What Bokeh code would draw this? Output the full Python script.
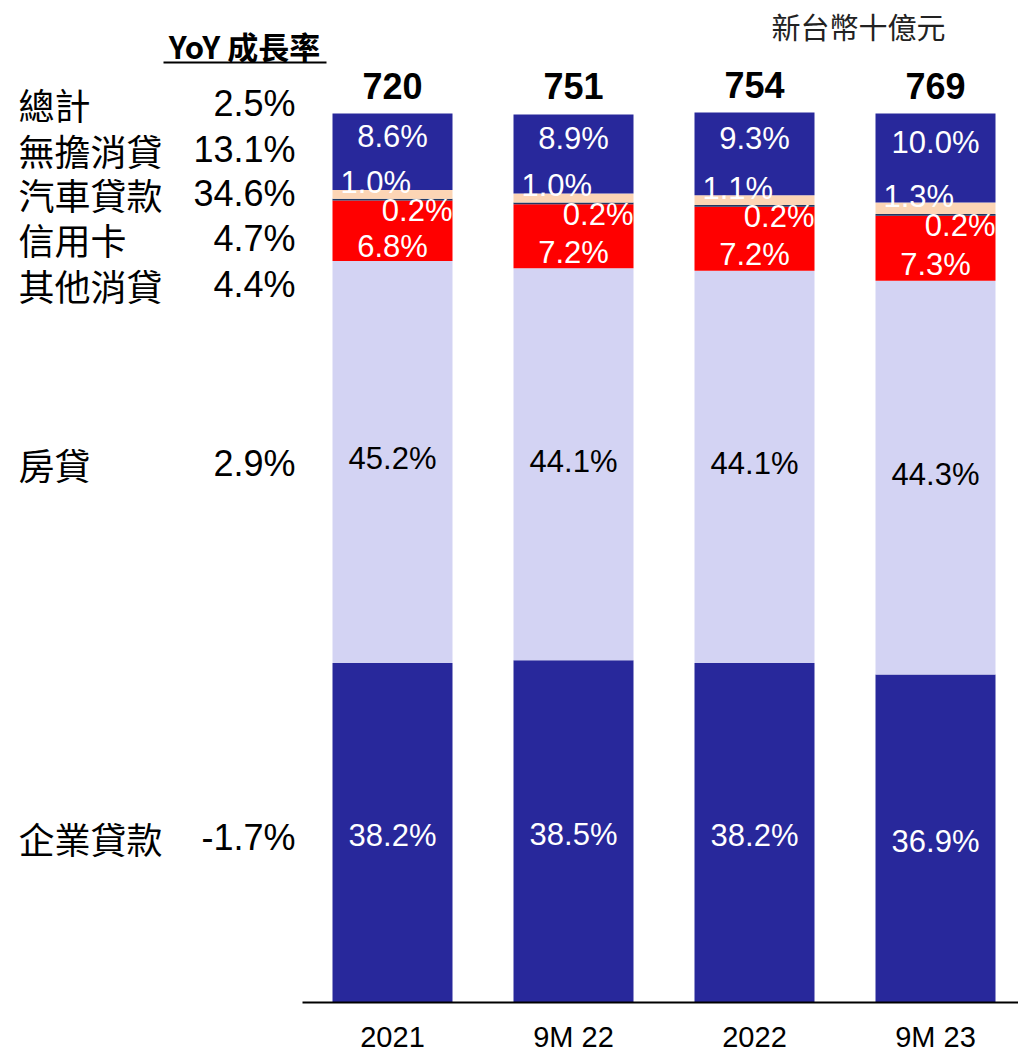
from bokeh.plotting import figure
from bokeh.models import ColumnDataSource, Range1d
from bokeh.core.properties import value
from bokeh.embed import file_html
from bokeh.resources import INLINE

# ---- data ----
categories = ["2021", "9M 22", "2022", "9M 23"]
totals = [720, 751, 754, 769]
corporate = [38.2, 38.5, 38.2, 36.9]        # 企業貸款
mortgage = [45.2, 44.1, 44.1, 44.3]         # 房貸
other_consumer = [6.8, 7.2, 7.2, 7.3]       # 其他消貸
credit_card = [0.2, 0.2, 0.2, 0.2]          # 信用卡
auto_loan = [1.0, 1.0, 1.1, 1.3]            # 汽車貸款
unsecured = [8.6, 8.9, 9.3, 10.0]           # 無擔消貸
yoy_names = ["總計", "無擔消貸", "汽車貸款", "信用卡", "其他消貸", "房貸", "企業貸款"]
yoy_values = ["2.5%", "13.1%", "34.6%", "4.7%", "4.4%", "2.9%", "-1.7%"]
unit_label = "新台幣十億元"
yoy_title = "YoY 成長率"

# ---- layout constants (page renders at top-left, no margin) ----
W, H = 1018, 1053
ORG = 0                    # canvas origin in picture pixels
PXU = 100 / 889.0          # data units per pixel (y)
XPU = 1 / 181.0            # data units per pixel (x)
X0 = 392                   # picture px of first category centre
Y0 = 1002                  # picture px of y = 0

def dx(img_x):
    return (img_x - X0) * XPU

def dy(img_y):
    return (Y0 - img_y) * PXU

BAR_W = 120 * XPU
xs = list(range(len(categories)))

keys = ["corporate", "mortgage", "other", "card", "auto", "unsecured"]
series = [corporate, mortgage, other_consumer, credit_card, auto_loan, unsecured]
colors = ["#28289B", "#D3D3F3", "#FF0000", "#1F3864", "#FCD5B5", "#28289B"]

src = ColumnDataSource(dict(x=xs, **{k: v for k, v in zip(keys, series)}))

p = figure(width=W, height=H, output_backend="svg", toolbar_location=None,
           x_range=Range1d(dx(ORG), dx(ORG + W)), y_range=Range1d(dy(ORG + H), dy(ORG)),
           x_axis_type=None, y_axis_type=None, min_border=0,
           outline_line_color=None, background_fill_color="white")
p.grid.visible = False

p.vbar_stack(keys, x="x", width=BAR_W, fill_color=colors, line_color=None, source=src)

# baseline
p.segment(x0=[dx(302)], y0=[0], x1=[dx(1018)], y1=[0], line_color="black", line_width=2)

# ---- segment value labels ----
FONT = value("Liberation Sans")
CJK = value("Noto Sans CJK TC")

cum = [0.0] * len(categories)
bottoms, tops = [], []
for s in series:
    b = list(cum)
    cum = [c + v for c, v in zip(cum, s)]
    bottoms.append(b)
    tops.append(list(cum))

def fmt(v):
    return f"{v:.1f}%"

# rules: (series index, text colour, align, x shift px, y shift px (down +))
rules = [
    (0, "white", "center", 0, 3),
    (1, "black", "center", 0, -3),
    (2, "white", "center", 0, 16),
    (3, "white", "right", 60, 11),
    (4, "white", "left", -52, -12),
    (5, "white", "center", 0, -15),
]
for idx, col, align, xs_px, ys_px in rules:
    lx = [x + xs_px * XPU for x in xs]
    ly = [(b + t) / 2 - ys_px * PXU for b, t in zip(bottoms[idx], tops[idx])]
    txt = [fmt(v) for v in series[idx]]
    p.text(x=lx, y=ly, text=txt, text_color=col, text_align=align,
           text_baseline="middle", text_font=FONT, text_font_size="31px")

# totals
p.text(x=xs, y=[t + 28 * PXU for t in tops[-1]], text=[str(t) for t in totals],
       text_color="black", text_align="center", text_baseline="middle",
       text_font=FONT, text_font_size="36px", text_font_style="bold")

# category labels
p.text(x=xs, y=[dy(1036)] * len(xs), text=categories, text_color="black",
       text_align="center", text_baseline="middle", text_font=FONT, text_font_size="29px")

# unit label
p.text(x=[dx(858)], y=[dy(25)], text=[unit_label], text_color="#222222",
       text_align="center", text_baseline="middle", text_font=CJK, text_font_size="29px")

# YoY title + underline
p.text(x=[dx(244)], y=[dy(45)], text=[yoy_title], text_color="black",
       text_align="center", text_baseline="middle", text_font=CJK,
       text_font_size="31px", text_font_style="bold")
p.segment(x0=[dx(163)], y0=[dy(62)], x1=[dx(326)], y1=[dy(62)], line_color="black", line_width=2)

# left YoY list
row_y = [103, 149, 193, 238, 284, 463, 837]
p.text(x=[dx(18)] * len(yoy_names), y=[dy(v) for v in row_y], text=yoy_names,
       text_color="black", text_align="left", text_baseline="middle",
       text_font=CJK, text_font_size="36px")
p.text(x=[dx(295)] * len(yoy_values), y=[dy(v) for v in row_y], text=yoy_values,
       text_color="black", text_align="right", text_baseline="middle",
       text_font=FONT, text_font_size="36px")

open("out.html", "w").write(file_html(p, INLINE))
